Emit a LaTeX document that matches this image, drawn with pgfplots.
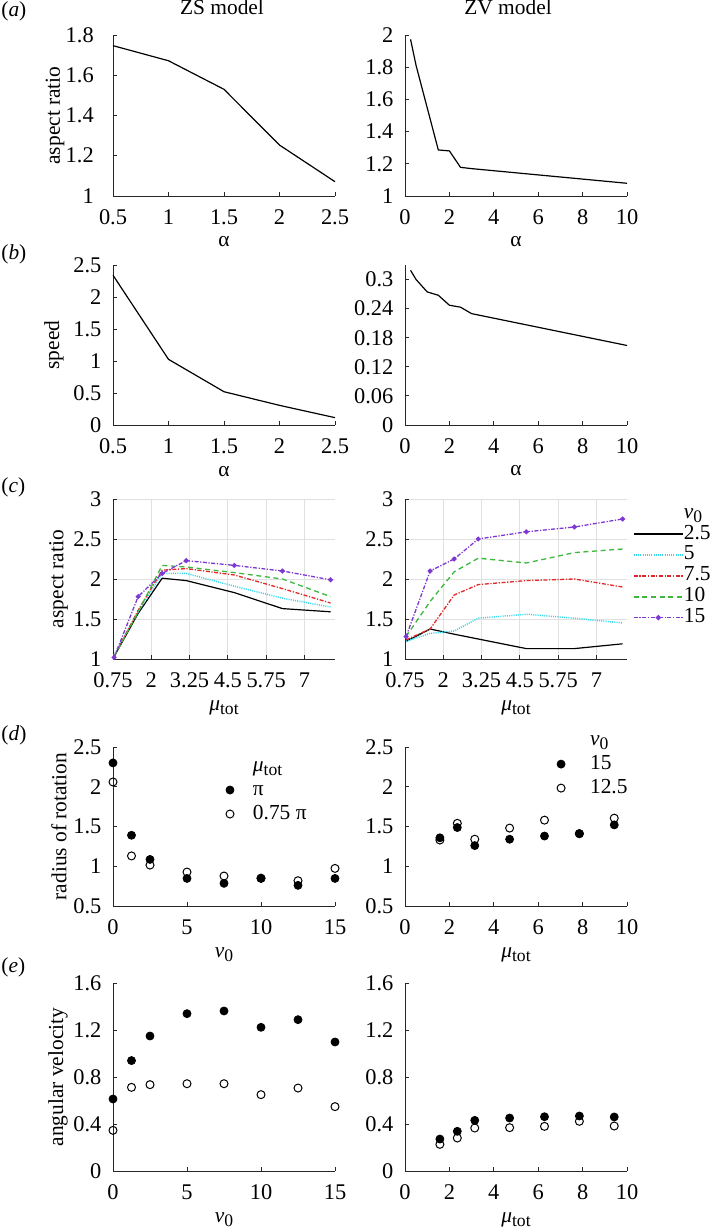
\documentclass[border=0pt]{standalone}
\usepackage{fontspec}
\setmainfont{Liberation Serif}
\usepackage{pgfplots}
\pgfplotsset{compat=1.18}
\newcommand{\sub}[1]{\raisebox{-2pt}{\fontsize{8.8}{10}\selectfont #1}}
\newcommand{\vz}{\textit{v}\sub{0}}
\newcommand{\mt}{\textit{μ}\sub{tot}}
\definecolor{axc}{RGB}{38,38,38}
\definecolor{cy}{RGB}{50,215,235}
\definecolor{rd}{RGB}{225,40,40}
\definecolor{gr}{RGB}{60,185,60}
\definecolor{pu}{RGB}{125,55,210}
\pgfplotsset{
 base/.style={scale only axis, width=111pt, anchor=north west,
  axis lines=left, axis line style={-,draw=axc,line width=0.45pt},
  tick align=inside, major tick length=2pt, tick style={axc, line width=0.45pt},
  tick label style={font=\fontsize{11.2}{13}\selectfont, text=black},
  yticklabel style={xshift=-2.3pt}, xticklabel style={yshift=-3.2pt},
  /pgf/number format/assume math mode=true,
  /pgf/number format/fixed,
  label style={font=\fontsize{10.7}{13}\selectfont},
  xlabel style={at={(axis description cs:0.5,0)}, anchor=base, yshift=-25.5pt},
  ylabel style={at={(axis description cs:-0.25,0.5)}, anchor=center},
  clip=false,
 },
 ln/.style={black, line width=0.6pt},
 fil/.style={only marks, mark=*, mark size=2pt, mark options={fill=black, draw=black}},
 opn/.style={only marks, mark=o, mark size=2pt, mark options={draw=black, line width=0.5pt}},
 cgrid/.style={grid=major, major grid style={draw=black!12, line width=0.4pt}},
 leg/.style={legend cell align=left, legend style={draw=none, fill=none, inner sep=0pt, outer sep=0pt,
   nodes={inner sep=0pt, text height=7pt, text depth=2pt, font=\fontsize{10.7}{13}\selectfont}}},
 cys/.style={cy, line width=0.75pt, dash pattern=on 0.5pt off 0.6pt},
 rds/.style={rd, line width=0.65pt, dash pattern=on 2pt off 0.8pt on 0.6pt off 0.8pt},
 grs/.style={gr, line width=0.65pt, dash pattern=on 2.5pt off 1.8pt},
 pus/.style={pu, line width=0.65pt, dash pattern=on 2pt off 0.8pt on 0.6pt off 0.8pt, mark=*, mark size=0.9pt, mark options={solid, fill=pu}},
}
\begin{document}
\begin{tikzpicture}
\useasboundingbox (0,0) rectangle (354.5pt,-614.5pt);
% titles and panel labels
\node[anchor=base, font=\fontsize{10.7}{13}\selectfont] at (111pt,-7.5pt) {ZS model};
\node[anchor=base, font=\fontsize{10.7}{13}\selectfont] at (254pt,-7.5pt) {ZV model};
\node[anchor=base west, inner sep=0pt, font=\fontsize{10.7}{13}\selectfont] at (0.5pt,-8.3pt) {(\textit{a})};
\node[anchor=base west, inner sep=0pt, font=\fontsize{10.7}{13}\selectfont] at (0.5pt,-130pt) {(\textit{b})};
\node[anchor=base west, inner sep=0pt, font=\fontsize{10.7}{13}\selectfont] at (0.5pt,-246pt) {(\textit{c})};
\node[anchor=base west, inner sep=0pt, font=\fontsize{10.7}{13}\selectfont] at (0.5pt,-370pt) {(\textit{d})};
\node[anchor=base west, inner sep=0pt, font=\fontsize{10.7}{13}\selectfont] at (0.5pt,-486pt) {(\textit{e})};

% (a) left
\begin{axis}[base, at={(56.5pt,-17.5pt)}, height=80.5pt,
  xmin=0.5, xmax=2.5, xtick={0.5,1,1.5,2,2.5}, ymin=1, ymax=1.8, ytick={1,1.2,1.4,1.6,1.8},
  yticklabel style={xshift=-3.8pt},
  xlabel={α}, ylabel={aspect ratio}, ylabel style={at={(axis description cs:-0.261,0.5)}}]
\addplot[ln] coordinates {(0.5,1.747)(1,1.672)(1.5,1.53)(2,1.253)(2.5,1.071)};
\end{axis}
% (a) right
\begin{axis}[base, at={(202.5pt,-17.5pt)}, height=80.5pt,
  xmin=0, xmax=10, xtick={0,2,4,6,8,10}, ymin=1, ymax=2, ytick={1,1.2,1.4,1.6,1.8,2},
  xlabel={α}]
\addplot[ln] coordinates {(0.25,1.973)(0.5,1.81)(1.5,1.286)(2,1.28)(2.5,1.178)(3,1.17)(10,1.079)};
\end{axis}

% (b) left
\begin{axis}[base, at={(56.5pt,-132.5pt)}, height=80pt,
  xmin=0.5, xmax=2.5, xtick={0.5,1,1.5,2,2.5}, ymin=0, ymax=2.5, ytick={0,0.5,1,1.5,2,2.5},
  xlabel={α}, ylabel={speed}, ylabel style={at={(axis description cs:-0.266,0.5)}}]
\addplot[ln] coordinates {(0.5,2.34)(1,1.026)(1.5,0.52)(2,0.307)(2.5,0.115)};
\end{axis}
% (b) right
\begin{axis}[base, at={(202.5pt,-132.5pt)}, height=80pt,
  xmin=0, xmax=10, xtick={0,2,4,6,8,10}, ymin=0, ymax=0.33, ytick={0,0.06,0.12,0.18,0.24,0.3},
  xlabel={α}]
\addplot[ln] coordinates {(0.25,0.319)(0.5,0.30)(1,0.2745)(1.5,0.2676)(2,0.247)(2.5,0.243)(3,0.2297)(10,0.164)};
\end{axis}

% (c) left
\begin{axis}[base, cgrid, at={(56.5pt,-249.5pt)}, height=80pt,
  xmin=0.75, xmax=8, xtick={0.75,2,3.25,4.5,5.75,7}, ymin=1, ymax=3, ytick={1,1.5,2,2.5,3},
  xlabel={\mt}, ylabel={aspect ratio}, ylabel style={at={(axis description cs:-0.245,0.5)}}]
\addplot[ln] coordinates {(0.785,1.03)(1.571,1.57)(2.356,2.01)(3.142,1.98)(4.712,1.83)(6.283,1.63)(7.854,1.59)};
\addplot[cys] coordinates {(0.785,1.05)(1.571,1.59)(2.356,2.07)(3.142,2.07)(4.712,1.91)(6.283,1.76)(7.854,1.65)};
\addplot[rds] coordinates {(0.785,1.03)(1.571,1.61)(2.356,2.11)(3.142,2.13)(4.712,2.05)(6.283,1.88)(7.854,1.70)};
\addplot[grs] coordinates {(0.785,1.03)(1.571,1.59)(2.356,2.17)(3.142,2.15)(4.712,2.08)(6.283,2.0)(7.854,1.78)};
\addplot[pus] coordinates {(0.785,1.02)(1.571,1.78)(2.356,2.07)(3.142,2.23)(4.712,2.17)(6.283,2.10)(7.854,1.99)};
\end{axis}
% (c) right
\begin{axis}[base, cgrid, leg, at={(202.5pt,-249.5pt)}, height=80pt,
  xmin=0.75, xmax=8, xtick={0.75,2,3.25,4.5,5.75,7}, ymin=1, ymax=3, ytick={1,1.5,2,2.5,3},
  xlabel={\mt},
  legend style={at={(rel axis cs:1.027,0.968)}, anchor=north west, row sep=1.45pt},
  legend image code/.code={\node[inner sep=0pt, minimum width=25pt, minimum height=0pt, anchor=west] at (0pt,0pt) {}; \draw[mark repeat=2,mark phase=2,#1,line width=0.8pt] plot coordinates {(0pt,0pt) (12.3pt,0pt) (24.5pt,0pt)};}]
\addlegendimage{empty legend}\addlegendentry{\vz}
\addplot[ln] coordinates {(0.785,1.22)(1.571,1.375)(2.356,1.31)(3.142,1.25)(4.712,1.13)(6.283,1.13)(7.854,1.19)};
\addlegendentry{2.5}
\addplot[cys] coordinates {(0.785,1.22)(1.571,1.32)(2.356,1.35)(3.142,1.51)(4.712,1.56)(6.283,1.51)(7.854,1.45)};
\addlegendentry{5}
\addplot[rds] coordinates {(0.785,1.24)(1.571,1.375)(2.356,1.80)(3.142,1.93)(4.712,1.98)(6.283,2.0)(7.854,1.90)};
\addlegendentry{7.5}
\addplot[grs] coordinates {(0.785,1.28)(1.571,1.72)(2.356,2.09)(3.142,2.26)(4.712,2.20)(6.283,2.33)(7.854,2.375)};
\addlegendentry{10}
\addplot[pus] coordinates {(0.785,1.28)(1.571,2.10)(2.356,2.25)(3.142,2.50)(4.712,2.59)(6.283,2.65)(7.854,2.75)};
\addlegendentry{15}
\end{axis}

% (d) left
\begin{axis}[base, leg, at={(56.5pt,-373.5pt)}, height=79.5pt,
  xmin=0, xmax=15, xtick={0,5,10,15}, ymin=0.5, ymax=2.5, ytick={0.5,1,1.5,2,2.5},
  xlabel={\vz}, ylabel={radius of rotation}, ylabel style={at={(axis description cs:-0.243,0.5)}},
  legend style={at={(rel axis cs:0.509,0.937)}, anchor=north west, row sep=3pt},
  legend image code/.code={\node[inner sep=0pt, minimum width=13.5pt, minimum height=0pt, anchor=west] at (0pt,0pt) {}; \draw[#1] plot coordinates {(2pt,0pt)};}]
\addlegendimage{empty legend}\addlegendentry{\mt}
\addplot[fil] coordinates {(0,2.30)(1.25,1.39)(2.5,1.086)(5,0.847)(7.5,0.785)(10,0.847)(12.5,0.76)(15,0.847)};
\addlegendentry{π}
\addplot[opn] coordinates {(0,2.06)(1.25,1.13)(2.5,1.015)(5,0.927)(7.5,0.877)(10,0.85)(12.5,0.818)(15,0.973)};
\addlegendentry{0.75 π}
\end{axis}
% (d) right
\begin{axis}[base, leg, at={(202.5pt,-373.5pt)}, height=79.5pt,
  xmin=0, xmax=10, xtick={0,2,4,6,8,10}, ymin=0.5, ymax=2.5, ytick={0.5,1,1.5,2,2.5},
  xlabel={\mt},
  legend style={at={(rel axis cs:0.685,1.10)}, anchor=north west, row sep=3pt},
  legend image code/.code={\node[inner sep=0pt, minimum width=16.5pt, minimum height=0pt, anchor=west] at (0pt,0pt) {}; \draw[#1] plot coordinates {(2pt,0pt)};}]
\addlegendimage{empty legend}\addlegendentry{\vz}
\addplot[fil] coordinates {(1.571,1.358)(2.356,1.487)(3.142,1.26)(4.712,1.34)(6.283,1.38)(7.854,1.41)(9.425,1.52)};
\addlegendentry{15}
\addplot[opn] coordinates {(1.571,1.33)(2.356,1.54)(3.142,1.34)(4.712,1.48)(6.283,1.58)(7.854,1.41)(9.425,1.605)};
\addlegendentry{12.5}
\end{axis}

% (e) left
\begin{axis}[base, at={(56.5pt,-491.5pt)}, height=94pt,
  xmin=0, xmax=15, xtick={0,5,10,15}, ymin=0, ymax=1.6, ytick={0,0.4,0.8,1.2,1.6},
  xlabel={\vz}, ylabel={angular velocity}, ylabel style={at={(axis description cs:-0.248,0.5)}}]
\addplot[fil] coordinates {(0,0.613)(1.25,0.94)(2.5,1.149)(5,1.339)(7.5,1.362)(10,1.223)(12.5,1.288)(15,1.098)};
\addplot[opn] coordinates {(0,0.346)(1.25,0.712)(2.5,0.735)(5,0.743)(7.5,0.743)(10,0.65)(12.5,0.706)(15,0.548)};
\end{axis}
% (e) right
\begin{axis}[base, at={(202.5pt,-491.5pt)}, height=94pt,
  xmin=0, xmax=10, xtick={0,2,4,6,8,10}, ymin=0, ymax=1.6, ytick={0,0.4,0.8,1.2,1.6},
  xlabel={\mt}]
\addplot[fil] coordinates {(1.571,0.272)(2.356,0.338)(3.142,0.431)(4.712,0.451)(6.283,0.462)(7.854,0.468)(9.425,0.46)};
\addplot[opn] coordinates {(1.571,0.227)(2.356,0.281)(3.142,0.366)(4.712,0.369)(6.283,0.38)(7.854,0.423)(9.425,0.383)};
\end{axis}
\end{tikzpicture}
\end{document}
